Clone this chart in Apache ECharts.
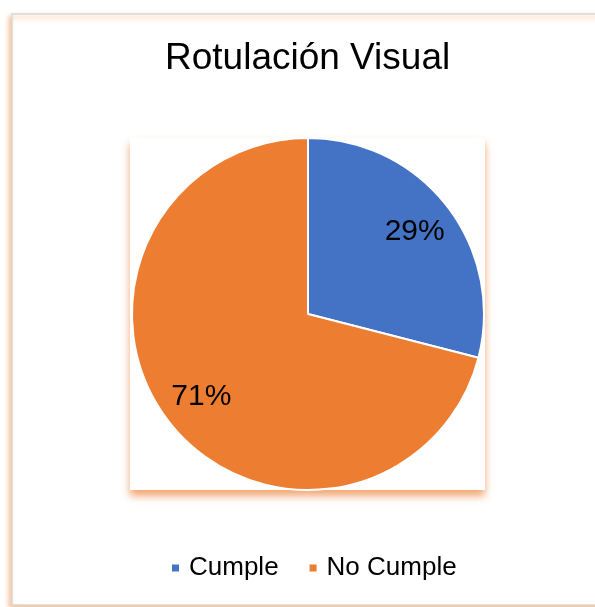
<!DOCTYPE html>
<html>
<head>
<meta charset="utf-8">
<script src="https://cdn.jsdelivr.net/npm/echarts@6/dist/echarts.min.js"></script>
<style>
    html, body { margin: 0; padding: 0; background: #fff; }
    #chart { width: 595px; height: 607px; }
</style>
</head>
<body>
<div id="chart"></div>
<script>
    // data
    let categories = ['Cumple', 'No Cumple'];
    let values = [29, 71];
    let colors = ['#4472C4', '#ED7D31'];

    let font = '"Liberation Sans", Arial, sans-serif';
    let r = 176;

    let pieData = categories.map((name, i) => ({ name: name, value: values[i] }));

    let myChart = echarts.init(document.getElementById('chart'));
    let option = {
        animation: false,
        color: colors,
        title: {
            text: 'Rotulación Visual',
            left: 165,
            top: 40,
            padding: 0,
            textStyle: { fontFamily: font, fontSize: 37, fontWeight: 'normal', color: '#000' }
        },
        graphic: [
            {
                type: 'rect', z: -10,
                shape: { x: 12, y: 14, width: 620, height: 591 },
                style: { fill: '#fff', stroke: '#D9D9D9', lineWidth: 1.5,
                    shadowColor: 'rgba(244,177,131,0.9)', shadowBlur: 5, shadowOffsetX: -2, shadowOffsetY: 3 }
            },
            {
                type: 'rect', z: -9,
                shape: { x: 130, y: 138, width: 355, height: 352 },
                style: { fill: '#fff',
                    shadowColor: 'rgba(240,150,90,0.85)', shadowBlur: 8, shadowOffsetY: 6 }
            }
        ],
        legend: {
            left: 170,
            top: 555,
            padding: 0,
            icon: 'rect',
            itemWidth: 9,
            itemHeight: 9,
            itemGap: 29,
            data: categories,
            textStyle: { fontFamily: font, fontSize: 26, color: '#000', padding: [0, 0, 0, 4] }
        },
        series: [
            {
                type: 'pie',
                center: [308, 314],
                radius: [0, r],
                startAngle: 90,
                silent: true,
                data: pieData,
                itemStyle: { borderColor: '#fff', borderWidth: 2 },
                label: { show: false },
                labelLine: { show: false }
            },
            {
                // label carrier, so labels sit at ~3/4 of the radius
                type: 'pie',
                center: [308, 314],
                radius: [r * 0.5, r],
                startAngle: 90,
                silent: true,
                data: pieData,
                itemStyle: { color: 'transparent' },
                label: {
                    show: true,
                    position: 'inside',
                    formatter: '{d}%',
                    fontFamily: font,
                    fontSize: 30,
                    color: '#000'
                },
                labelLine: { show: false }
            }
        ]
    };
    myChart.setOption(option);
</script>
</body>
</html>
